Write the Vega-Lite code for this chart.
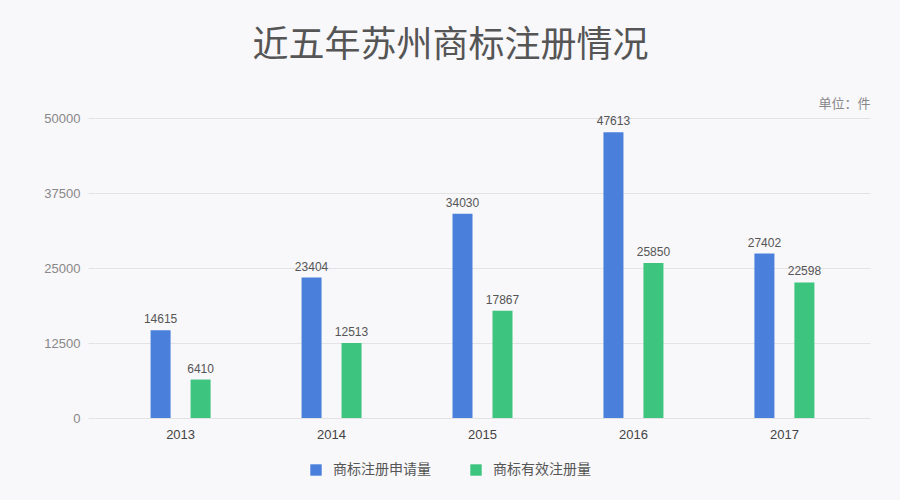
{
  "$schema": "https://vega.github.io/schema/vega-lite/v6.json",
  "width": 775,
  "height": 300,
  "autosize": {"type": "none"},
  "padding": {"left": 95, "top": 118, "right": 30, "bottom": 82},
  "background": "#f8f7fa",
  "title": {
    "text": "近五年苏州商标注册情况",
    "font": "Noto Sans CJK SC",
    "fontSize": 36,
    "fontWeight": "normal",
    "color": "#555555",
    "anchor": "middle",
    "dx": -32,
    "offset": 32
  },
  "data": {
    "values": [
      {"year": "2013", "type": "商标注册申请量", "value": 14615},
      {"year": "2013", "type": "商标有效注册量", "value": 6410},
      {"year": "2014", "type": "商标注册申请量", "value": 23404},
      {"year": "2014", "type": "商标有效注册量", "value": 12513},
      {"year": "2015", "type": "商标注册申请量", "value": 34030},
      {"year": "2015", "type": "商标有效注册量", "value": 17867},
      {"year": "2016", "type": "商标注册申请量", "value": 47613},
      {"year": "2016", "type": "商标有效注册量", "value": 25850},
      {"year": "2017", "type": "商标注册申请量", "value": 27402},
      {"year": "2017", "type": "商标有效注册量", "value": 22598}
    ]
  },
  "encoding": {
    "x": {
      "field": "year", "type": "nominal",
      "scale": {"paddingInner": 0, "paddingOuter": 0.067},
      "axis": {
        "title": null, "labelAngle": 0, "ticks": false,
        "domainColor": "#e3e3e6", "labelColor": "#444444",
        "labelFont": "Liberation Sans", "labelFontSize": 13, "labelPadding": 10
      }
    },
    "xOffset": {
      "field": "type", "type": "nominal",
      "sort": ["商标注册申请量", "商标有效注册量"],
      "scale": {"paddingInner": 0.225, "paddingOuter": 1}
    },
    "y": {
      "field": "value", "type": "quantitative",
      "scale": {"domain": [0, 50000], "nice": false},
      "axis": {
        "values": [0, 12500, 25000, 37500, 50000],
        "format": "d",
        "title": "单位：件",
        "titleAngle": 0, "titleAlign": "right", "titleBaseline": "bottom",
        "titleX": 775, "titleY": -8,
        "titleFont": "Noto Sans CJK SC", "titleFontSize": 13, "titleFontWeight": "normal",
        "titleColor": "#888888",
        "domain": false, "tickSize": 7, "tickColor": "#e3e3e6",
        "gridColor": "#e3e3e6", "labelColor": "#888888",
        "labelFont": "Liberation Sans", "labelFontSize": 13, "labelPadding": 8
      }
    }
  },
  "layer": [
    {
      "mark": {"type": "bar", "size": 20},
      "encoding": {
        "color": {
          "field": "type", "type": "nominal",
          "sort": ["商标注册申请量", "商标有效注册量"],
          "scale": {"range": ["#4a80db", "#3dc47e"]},
          "legend": {
            "title": null, "orient": "none", "direction": "horizontal",
            "legendX": 214, "legendY": 345,
            "symbolType": "square", "symbolSize": 130, "symbolStrokeWidth": 0,
            "labelFont": "Noto Sans CJK SC", "labelFontSize": 14, "labelColor": "#555555",
            "columnPadding": 38, "labelOffset": 10
          }
        }
      }
    },
    {
      "mark": {"type": "text", "dy": -11, "font": "Liberation Sans", "fontSize": 12, "color": "#555555"},
      "encoding": {"text": {"field": "value", "type": "quantitative", "format": "d"}}
    }
  ],
  "config": {"view": {"stroke": null}}
}
